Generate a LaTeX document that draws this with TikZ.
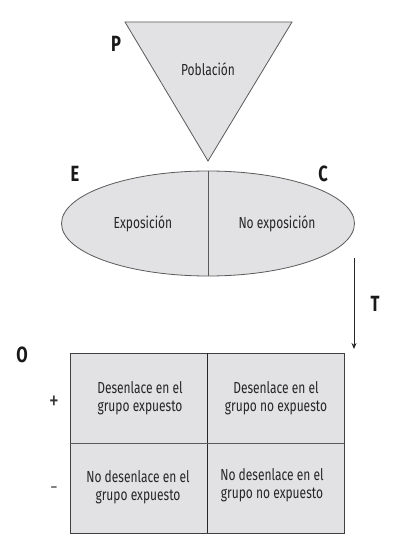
\documentclass[tikz,border=0pt]{standalone}
\usepackage{fontspec}
\setmainfont{Fira Sans}[FakeStretch=0.75]
\usetikzlibrary{arrows.meta}
\definecolor{boxfill}{HTML}{E2E2E4}
\definecolor{edge}{HTML}{5A5A5A}
\begin{document}
\begin{tikzpicture}[x=1pt,y=-1pt,
  txt/.style={font=\fontsize{16}{17.5}\selectfont, align=center, text=black!85, inner sep=0pt},
  lbl/.style={font=\fontsize{22}{24}\selectfont\bfseries, text=black!90, inner sep=0pt},
  sgn/.style={font=\fontsize{26}{28}\selectfont, text=black!80, inner sep=0pt},
  shapeline/.style={draw=edge, line width=0.8pt, fill=boxfill}]
\useasboundingbox (0,0) rectangle (402,553);
% triangle
\coordinate (tl) at (125,22);
\coordinate (tr) at (292,22);
\coordinate (apex) at (208,161);
\draw[shapeline, line join=miter] (tl) -- (tr) -- (apex) -- cycle;
\node[txt] (pob) at (208,69) {Población};
\node[lbl] (P) at (116,44) {P};
% ellipse
\coordinate (ec) at (208,223.5);
\draw[shapeline] (ec) ellipse [x radius=146.5, y radius=52.5];
\coordinate (etop) at (208,171);
\coordinate (ebot) at (208,276);
\draw[edge, line width=0.9pt] (etop) -- (ebot);
\node[txt] (expo) at (143,224) {Exposición};
\node[txt] (noexpo) at (277,224) {No exposición};
\node[lbl] (E) at (75,174) {E};
\node[lbl] (C) at (323,174) {C};
% arrow T
\coordinate (astart) at (354,258);
\coordinate (aend) at (354,349);
\draw[line width=1pt, black!85, -{Stealth[length=6pt,width=5pt]}] (astart) -- (aend);
\node[lbl] (T) at (375,304) {T};
% table
\coordinate (t1) at (70,353);
\coordinate (t2) at (344,533);
\draw[shapeline, draw=black!75] (t1) rectangle (t2);
\coordinate (vtop) at (207,353);
\coordinate (vbot) at (207,533);
\coordinate (hl) at (70,443);
\coordinate (hr) at (344,443);
\draw[black!85, line width=0.8pt] (vtop) -- (vbot);
\draw[edge, line width=0.8pt] (hl) -- (hr);
\node[txt] (c11) at (140,398) {Desenlace en el\\grupo expuesto};
\node[txt] (c12) at (276,398) {Desenlace en el\\grupo no expuesto};
\node[txt] (c21) at (138,487) {No desenlace en el\\grupo expuesto};
\node[txt] (c22) at (272,485) {No desenlace en el\\grupo no expuesto};
\node[lbl] (O) at (22,355) {O};
\node[sgn] (plus) at (54,403) {+};
\node[sgn, font=\fontsize{16}{18}\selectfont] (minus) at (54,490) {–};
\end{tikzpicture}
\end{document}
